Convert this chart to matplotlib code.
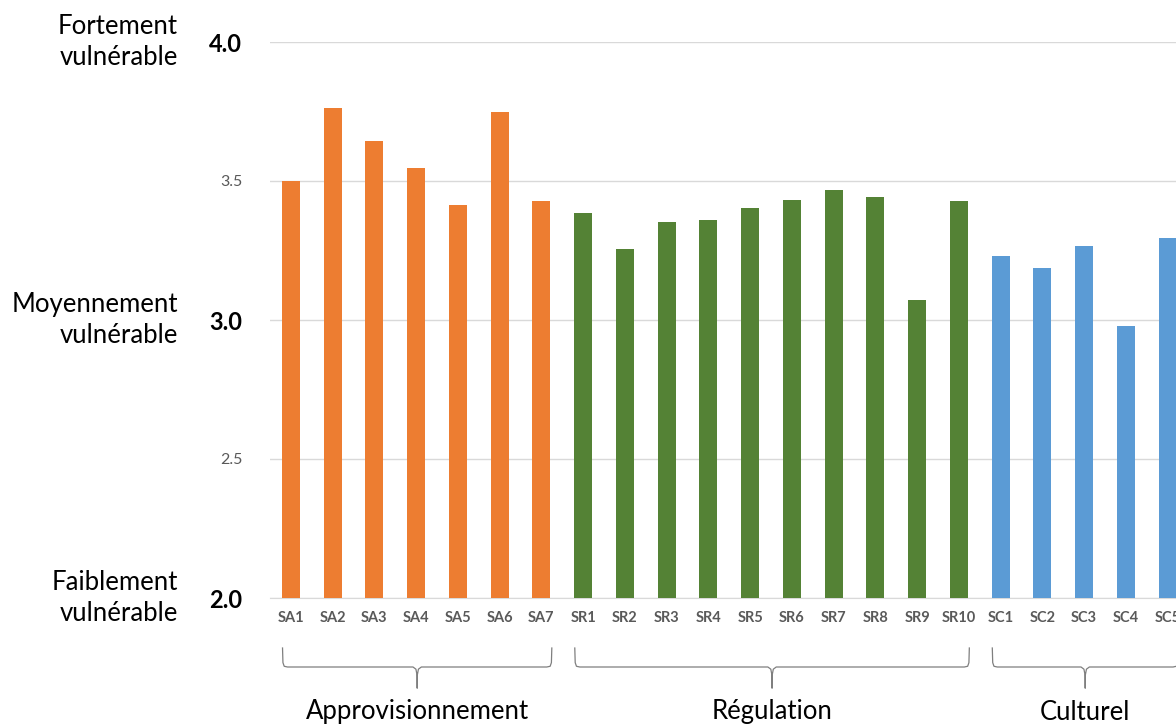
import numpy as np
from matplotlib import pyplot as plt
from matplotlib import transforms

plt.rcParams['font.family'] = ['Lato', 'DejaVu Sans']

# data
appro_labels = ["SA1", "SA2", "SA3", "SA4", "SA5", "SA6", "SA7"]
appro_values = [3.50, 3.763, 3.644, 3.547, 3.414, 3.748, 3.428]
regul_labels = ["SR1", "SR2", "SR3", "SR4", "SR5", "SR6", "SR7", "SR8", "SR9", "SR10"]
regul_values = [3.386, 3.256, 3.354, 3.359, 3.402, 3.431, 3.469, 3.442, 3.071, 3.429]
cult_labels = ["SC1", "SC2", "SC3", "SC4", "SC5"]
cult_values = [3.230, 3.186, 3.265, 2.977, 3.296]

groups = ["Approvisionnement", "Régulation", "Culturel"]
colors = ["#ED7D31", "#548235", "#5B9BD5"]

yticks = [2.0, 2.5, 3.0, 3.5, 4.0]
ytick_labels = ["2.0", "2.5", "3.0", "3.5", "4.0"]
side_labels = {2.0: "Faiblement\nvulnérable", 3.0: "Moyennement\nvulnérable",
               4.0: "Fortement\nvulnérable"}


def brace(ax, x0, x1, y_top, y_mid, y_tip):
    # curly brace drawn below the axis, x in data, y in figure coords
    trans = transforms.blended_transform_factory(ax.transData, ax.figure.transFigure)
    xc = (x0 + x1) / 2.0
    r = 0.12
    xs = [x0, x0 + 0.01, x0 + 0.04, x0 + r, xc - 0.1, xc - 0.03, xc, xc, xc, xc + 0.03, xc + 0.1, x1 - r, x1 - 0.04, x1 - 0.01, x1]
    ys = [y_top, y_mid + 0.006, y_mid + 0.001, y_mid, y_mid, y_mid - 0.003, y_mid - 0.012, y_tip, y_mid - 0.012, y_mid - 0.003, y_mid, y_mid, y_mid + 0.001, y_mid + 0.006, y_top]
    ax.plot(xs, ys, color="#7f7f7f", lw=0.9, transform=trans, clip_on=False)


def main():
    fig = plt.figure(figsize=(11.76, 7.27), dpi=100)
    ax = fig.add_axes([270 / 1176, 1 - 598 / 727, 1 - 270 / 1176, (598 - 42) / 727])

    all_labels = appro_labels + regul_labels + cult_labels
    all_values = appro_values + regul_values + cult_values
    bar_colors = ([colors[0]] * len(appro_labels) + [colors[1]] * len(regul_labels)
                  + [colors[2]] * len(cult_labels))
    x = np.arange(len(all_labels))

    ax.bar(x, np.array(all_values) - 2.0, bottom=2.0, width=0.43, color=bar_colors,
           zorder=3)

    ax.set_ylim(2.0, 4.0)
    ax.set_xlim(-0.5, 21.2)
    ax.set_yticks(yticks)
    ax.set_yticklabels(ytick_labels)
    for v, lab in zip(yticks, ax.get_yticklabels()):
        if v in side_labels:
            lab.set_fontsize(17)
            lab.set_fontweight("bold")
            lab.set_color("black")
        else:
            lab.set_fontsize(11.5)
            lab.set_color("#595959")
    ax.tick_params(axis="y", length=0, pad=20)
    ax.set_xticks(x)
    ax.set_xticklabels(all_labels, fontsize=10.5, fontweight="bold", color="#595959")
    ax.tick_params(axis="x", length=0, pad=9)

    ax.grid(axis="y", color="#d9d9d9", lw=1, zorder=0)
    for s in ["top", "right", "left"]:
        ax.spines[s].set_visible(False)
    ax.spines["bottom"].set_color("#d9d9d9")

    side_trans = transforms.blended_transform_factory(fig.transFigure, ax.transData)
    for v, txt in side_labels.items():
        ax.text(178 / 1176, v, txt, transform=side_trans, ha="right", va="center",
                fontsize=18.5, linespacing=1.3, clip_on=False)

    # group braces and names
    starts = [0, len(appro_labels), len(appro_labels) + len(regul_labels)]
    ends = [len(appro_labels) - 1, len(appro_labels) + len(regul_labels) - 1, len(all_labels) - 1]
    y_top = 1 - 648 / 727
    y_mid = 1 - 667 / 727
    y_tip = 1 - 688 / 727
    fig_trans = transforms.blended_transform_factory(ax.transData, fig.transFigure)
    for g, s, e in zip(groups, starts, ends):
        x0 = s - 0.2
        x1 = e + 0.25
        brace(ax, x0, x1, y_top, y_mid, y_tip)
        ax.text((x0 + x1) / 2.0, 1 - 712 / 727, g, transform=fig_trans, ha="center",
                va="center", fontsize=18.5, clip_on=False)

    plt.savefig("out.png", dpi=100)


if __name__ == "__main__":
    main()
